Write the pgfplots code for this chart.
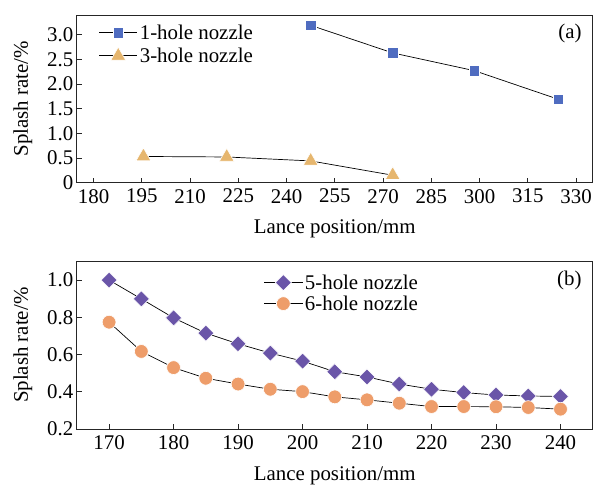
\documentclass[border=0pt]{standalone}
\usepackage{fontspec}
\setmainfont{Liberation Serif}
\usepackage{pgfplots}
\pgfplotsset{compat=1.18}
\definecolor{sqblue}{HTML}{4F6CC0}
\definecolor{trigold}{HTML}{E6B66E}
\definecolor{dmpurple}{HTML}{6A55A8}
\definecolor{corange}{HTML}{EE9D6A}
\pgfplotsset{
  panel/.style={
    scale only axis, width=517bp, height=168bp,
    font=\rmfamily\fontsize{21}{24}\selectfont,
    /pgf/number format/assume math mode=true,
    axis line style={black!85, line width=0.9bp},
    tick align=inside, xtick pos=bottom, ytick pos=left,
    major tick length=5bp,
    tick style={black!85, line width=0.8bp},
    xticklabel style={yshift=-3bp},
    xlabel={Lance position/mm}, ylabel={Splash rate/\%},
    xlabel style={yshift=-10bp},
    ylabel style={yshift=8bp},
    legend cell align=left,
    legend style={draw=none, fill=none, font=\rmfamily\fontsize{21}{24}\selectfont,
      inner sep=1bp},
  },
  ser/.style={black, line width=0.7bp,
    legend image code/.code={\draw[mark repeat=2,mark phase=2] plot coordinates {(0cm,0cm) (0.68cm,0cm) (1.36cm,0cm)};}},
}
\begin{document}
\begin{tikzpicture}[x=1bp,y=1bp]
\begin{axis}[panel, at={(77bp,-15bp)}, anchor=north west,
  xmin=174.8, xmax=335.2, ymin=0, ymax=3.4,
  xtick={180,195,...,330},
  ytick={0,0.5,1,1.5,2,2.5,3},
  yticklabels={0,0.5,1.0,1.5,2.0,2.5,3.0},
  legend style={at={(0.04,0.96)}, anchor=north west, row sep=3bp}]
\addplot[ser, mark=square*, mark size=5.4bp, mark options={fill=sqblue, draw=white, line width=0.6bp}] coordinates {
(247.5,3.19) (273,2.63) (298.4,2.27) (324.5,1.69)};
\addlegendentry{1-hole nozzle}
\addplot[ser, mark=triangle*, mark size=8.6bp, mark options={fill=trigold, draw=white, line width=0.6bp}] coordinates {
(195.5,0.53) (221.4,0.52) (247.5,0.44) (273,0.15)};
\addlegendentry{3-hole nozzle}
\node[anchor=north east] at (rel axis cs:0.985,0.965) {(a)};
\end{axis}
\begin{axis}[panel, at={(77bp,-262bp)}, anchor=north west,
  xmin=165, xmax=245, ymin=0.2, ymax=1.1,
  xtick={170,180,...,240},
  ytick={0.2,0.4,0.6,0.8,1.0},
  yticklabel style={/pgf/number format/.cd, fixed, fixed zerofill, precision=1},
  legend style={at={(0.36,0.94)}, anchor=north west, row sep=1bp}]
\addplot[ser, mark=square*, mark size=5.7bp, mark options={rotate=45, fill=dmpurple, draw=white, line width=0.6bp}] coordinates {
(170,1.000) (175,0.899) (180,0.797) (185,0.715) (190,0.658) (195,0.608)
(200,0.565) (205,0.508) (210,0.480) (215,0.442) (220,0.414) (225,0.396)
(230,0.383) (235,0.378) (240,0.375)};
\addlegendentry{5-hole nozzle}
\addplot[ser, mark=*, mark size=6.9bp, mark options={fill=corange, draw=white, line width=0.6bp}] coordinates {
(170,0.774) (175,0.617) (180,0.530) (185,0.473) (190,0.442) (195,0.414)
(200,0.401) (205,0.373) (210,0.357) (215,0.339) (220,0.321) (225,0.321)
(230,0.320) (235,0.316) (240,0.307)};
\addlegendentry{6-hole nozzle}
\node[anchor=north east] at (rel axis cs:0.985,0.965) {(b)};
\end{axis}
\path (0bp,0bp) rectangle (595bp,-489bp);
\end{tikzpicture}
\end{document}
